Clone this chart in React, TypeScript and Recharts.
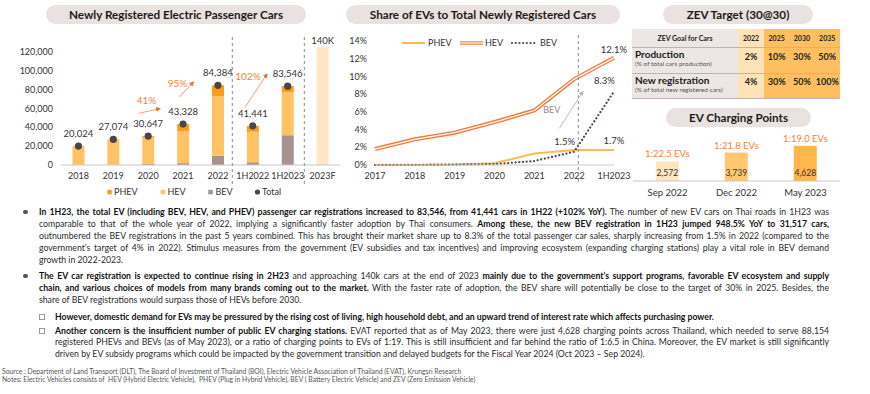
import React from 'react';
import { ComposedChart, LineChart, BarChart, Bar, Line, XAxis, YAxis, LabelList, Cell } from 'recharts';

const FONT = 'Lato, "Noto Sans", sans-serif';

// newly registered electric passenger cars
const periods = ['2018', '2019', '2020', '2021', '2022', '1H2022', '1H2023', '2023F'];
const bevCars = [100, 130, 1300, 1950, 9700, 3000, 31517, null];
const hevCars = [19500, 26500, 28300, 34100, 63200, 32100, 45700, null];
const phevCars = [424, 444, 1047, 7278, 11484, 6341, 6329, null];
const totalCars = [20024, 27074, 30647, 43328, 84384, 41441, 83546, null];
const forecastCars = [null, null, null, null, null, null, null, 140000];
const forecastLabels = ['', '', '', '', '', '', '', '140K'];
const carTicks = [0, 20000, 40000, 60000, 80000, 100000, 120000];

// share of EVs to total newly registered cars (%)
const shareYears = ['2017', '2018', '2019', '2020', '2021', '2022', '1H2023'];
const hevShare = [1.8, 2.9, 3.65, 4.85, 6.15, 9.7, 12.1];
const phevShare = [0, 0, 0.05, 0.2, 1.3, 1.7, 1.7];
const bevShare = [0, 0.02, 0.05, 0.1, 0.45, 1.5, 8.3];
const hevShareLabels = ['', '', '', '', '', '', '12.1%'];
const phevShareLabels = ['', '', '', '', '', '', '1.7%'];
const bevShareLabels = ['', '', '', '', '', '1.5%', '8.3%'];
const shareTicks = [0, 2, 4, 6, 8, 10, 12, 14];

// ZEV target
const zevYears = ['2022', '2025', '2030', '2035'];
const zevProduction = ['2%', '10%', '30%', '50%'];
const zevRegistration = ['4%', '30%', '50%', '100%'];

// EV charging points
const chargeDates = ['Sep 2022', 'Dec 2022', 'May 2023'];
const chargePoints = [2572, 3739, 4628];
const chargeRatios = ['1:22.5 EVs', '1:21.8 EVs', '1:19.0 EVs'];
const CHARGE_COLORS = ['#FFE4C0', '#FFC870', '#FFB64A'];

const carData = periods.map((p, i) => ({
  period: p, bev: bevCars[i], hev: hevCars[i], phev: phevCars[i],
  forecast: forecastCars[i], total: totalCars[i], forecastLabel: forecastLabels[i],
}));
const shareData = shareYears.map((y, i) => ({
  year: y, hev: hevShare[i], phev: phevShare[i], bev: bevShare[i],
  hevLabel: hevShareLabels[i], phevLabel: phevShareLabels[i], bevLabel: bevShareLabels[i],
}));
const chargeData = chargeDates.map((d, i) => ({ date: d, points: chargePoints[i], ratio: chargeRatios[i] }));

const BAR_TOP = 47;
const tickStyle = { fontSize: 9, fill: '#333', fontFamily: FONT };

type Seg = [string, boolean];
const para1: Seg[][] = [
  [['In 1H23, the total EV (including BEV, HEV, and PHEV) passenger car registrations increased to 83,546, from 41,441 cars in 1H22 (+102% YoY).', true], [' The number of new EV cars on Thai roads in 1H23 was', false]],
  [['comparable to that of the whole year of 2022, implying a significantly faster adoption by Thai consumers. ', false], ['Among these, the new BEV registration in 1H23 jumped 948.5% YoY to 31,517 cars,', true]],
  [['outnumbered the BEV registrations in the past 5 years combined. This has brought their market share up to 8.3% of the total passenger car sales, sharply increasing from 1.5% in 2022 (compared to the', false]],
  [['government\u2019s target of 4% in 2022). Stimulus measures from the government (EV subsidies and tax incentives) and improving ecosystem (expanding charging stations) play a vital role in BEV demand', false]],
  [['growth in 2022-2023.', false]],
];
const para2: Seg[][] = [
  [['The EV car registration is expected to continue rising in 2H23', true], [' and approaching 140k cars at the end of 2023 ', false], ['mainly due to the government\u2019s support programs, favorable EV ecosystem and supply', true]],
  [['chain, and various choices of models from many brands coming out to the market.', true], [' With the faster rate of adoption, the BEV share will potentially be close to the target of 30% in 2025. Besides, the', false]],
  [['share of BEV registrations would surpass those of HEVs before 2030.', false]],
];
const sub1: Seg[][] = [
  [['However, domestic demand for EVs may be pressured by the rising cost of living, high household debt, and an upward trend of interest rate which affects purchasing power.', true]],
];
const sub2: Seg[][] = [
  [['Another concern is the insufficient number of public EV charging stations.', true], [' EVAT reported that as of May 2023, there were just 4,628 charging points across Thailand, which needed to serve 88,154', false]],
  [['registered PHEVs and BEVs (as of May 2023), or a ratio of charging points to EVs of 1:19. This is still insufficient and far behind the ratio of 1:6.5 in China. Moreover, the EV market is still significantly', false]],
  [['driven by EV subsidy programs which could be impacted by the government transition and delayed budgets for the Fiscal Year 2024 (Oct 2023 \u2013 Sep 2024).', false]],
];

function Pill({ left, top, width, text }: { left: number; top: number; width: number; text: string }) {
  return (
    <div style={{ position: 'absolute', left, top, width, height: 19, borderRadius: 10, background: '#EAE2E0', textAlign: 'center', lineHeight: '19px', fontSize: 11.7, fontWeight: 700, color: '#1a1a1a' }}>
      {text}
    </div>
  );
}

function Para({ lines, left, top, width, lh, bullet }: { lines: Seg[][]; left: number; top: number; width: number; lh: number; bullet: 'dot' | 'box' }) {
  return (
    <div style={{ position: 'absolute', left, top, width }}>
      {bullet === 'dot'
        ? <div style={{ position: 'absolute', left: -16, top: lh / 2 - 2.4, width: 4.8, height: 4.8, borderRadius: 3, background: '#555' }} />
        : <div style={{ position: 'absolute', left: -16, top: lh / 2 - 2.5, width: 4, height: 4, border: '0.8px solid #999' }} />}
      {lines.map((segs, i) => {
        const last = i === lines.length - 1;
        return (
          <div key={i} style={{ width, height: lh, lineHeight: `${lh}px`, whiteSpace: 'nowrap', textAlign: last ? 'left' : 'justify', textAlignLast: last ? 'left' : 'justify' }}>
            {segs.map(([t, b], j) => <span key={j} style={{ fontWeight: b ? 700 : 400, color: b ? '#111' : '#2a2a2a' }}>{t}</span>)}
          </div>
        );
      })}
    </div>
  );
}

const ForecastLabel = (props: any) => {
  const { x, y, width, value } = props;
  if (!value) return null;
  return <text x={Number(x) + Number(width) / 2} y={Math.max(Number(y), BAR_TOP) - 3.5} textAnchor="middle" fontSize={9.5} fill="#333" fontFamily={FONT}>{value}</text>;
};

const BevShareLabel = (props: any) => {
  const { x, y, value } = props;
  if (!value) return null;
  return <text x={Number(x) + 1} y={Number(y) - 7} textAnchor="end" fontSize={9.5} fill="#333" fontFamily={FONT}>{value}</text>;
};

const RatioLabel = (props: any) => {
  const { x, y, width, value } = props;
  return <text x={Number(x) + Number(width) / 2} y={Number(y) - 4} textAnchor="middle" fontSize={9.5} fill="#F5823A" fontFamily={FONT}>{value}</text>;
};

const PointsLabel = (props: any) => {
  const { x, y, width, height, value } = props;
  return <text x={Number(x) + Number(width) / 2} y={Number(y) + Number(height) - 5} textAnchor="middle" fontSize={8.5} fill="#333" fontFamily={FONT}>{Number(value).toLocaleString('en-US')}</text>;
};

export default function App() {
  const cellBase: React.CSSProperties = { position: 'absolute', textAlign: 'center', fontWeight: 700, color: '#222' };
  const colLeft = (i: number) => 106 + (i === 0 ? 0 : 26 + (i - 1) * 25.3);
  const colWidth = (i: number) => (i === 0 ? 26 : 25.3);
  return (
    <div style={{ position: 'absolute', left: 0, top: 0, width: 870, height: 394, background: '#fff', fontFamily: FONT, overflow: 'hidden' }}>
      <Pill left={46} top={5} width={260} text="Newly Registered Electric Passenger Cars" />
      <Pill left={346} top={5} width={274} text="Share of EVs to Total Newly Registered Cars" />
      <Pill left={663} top={5} width={150} text="ZEV Target (30@30)" />
      <Pill left={666} top={108} width={145} text="EV Charging Points" />

      <div style={{ position: 'absolute', left: 0, top: 0 }}>
        <ComposedChart width={340} height={200} data={carData} margin={{ top: BAR_TOP, right: 0, bottom: 5, left: 0 }} barCategoryGap="33%">
          <XAxis dataKey="period" interval={0} tickLine={false} axisLine={{ stroke: '#C8C8C8' }} tick={tickStyle} height={30} />
          <YAxis width={61} domain={[0, 125000]} allowDataOverflow ticks={carTicks} tickLine={false} axisLine={false} tick={tickStyle} tickFormatter={(v: number) => v.toLocaleString('en-US')} />
          <Bar dataKey="bev" stackId="a" fill="#A8928F" isAnimationActive={false} />
          <Bar dataKey="hev" stackId="a" fill="#FFC366" isAnimationActive={false} />
          <Bar dataKey="phev" stackId="a" fill="#FF9B1C" isAnimationActive={false} />
          <Bar dataKey="forecast" stackId="a" fill="#FFE6C6" isAnimationActive={false}>
            <LabelList dataKey="forecastLabel" content={ForecastLabel} />
          </Bar>
          <Line dataKey="total" stroke="none" dot={{ r: 3.6, fill: '#4D4545', stroke: 'none' }} activeDot={false} isAnimationActive={false}>
            <LabelList dataKey="total" position="top" offset={9} fill="#333" fontSize={9.5} fontFamily={FONT} formatter={(v: any) => (v == null ? '' : Number(v).toLocaleString('en-US'))} />
          </Line>
        </ComposedChart>
      </div>

      <div style={{ position: 'absolute', left: 330, top: 0 }}>
        <LineChart width={306} height={200} data={shareData} margin={{ top: 41, right: 22, bottom: 5, left: 0 }}>
          <XAxis dataKey="year" interval={0} tickLine={false} axisLine={{ stroke: '#C8C8C8' }} tick={tickStyle} height={30} />
          <YAxis width={45} domain={[0, 14]} ticks={shareTicks} tickLine={false} axisLine={false} tick={tickStyle} tickFormatter={(v: number) => `${v}%`} />
          <Line dataKey="hev" stroke="#F47A3A" strokeWidth={4} dot={false} activeDot={false} isAnimationActive={false}>
            <LabelList dataKey="hevLabel" position="top" offset={5} fill="#333" fontSize={9.5} fontFamily={FONT} />
          </Line>
          <Line dataKey="hev" stroke="#FFFFFF" strokeWidth={1.3} dot={false} activeDot={false} isAnimationActive={false} />
          <Line dataKey="phev" stroke="#FFBA55" strokeWidth={2} dot={false} activeDot={false} isAnimationActive={false}>
            <LabelList dataKey="phevLabel" position="top" offset={6} fill="#333" fontSize={9.5} fontFamily={FONT} />
          </Line>
          <Line dataKey="bev" stroke="#5B4A4A" strokeWidth={2.2} strokeDasharray="0.1 3.6" strokeLinecap="round" dot={false} activeDot={false} isAnimationActive={false}>
            <LabelList dataKey="bevLabel" content={BevShareLabel} />
          </Line>
        </LineChart>
      </div>

      {/* ZEV target table */}
      <div style={{ position: 'absolute', left: 632, top: 29, width: 208, height: 69 }}>
        <div style={{ position: 'absolute', left: 0, top: 0, width: 106, height: 69, background: '#ECE7E5' }} />
        <div style={{ position: 'absolute', left: 106, top: 0, width: 26, height: 69, background: '#FFE3B8' }} />
        <div style={{ position: 'absolute', left: 132, top: 0, width: 76, height: 69, background: '#FFBF60' }} />
        <div style={{ position: 'absolute', left: 0, top: 17.5, width: 208, height: 1, background: '#BDB5B3' }} />
        <div style={{ position: 'absolute', left: 0, top: 43.5, width: 208, height: 1, background: '#BDB5B3' }} />
        <div style={{ position: 'absolute', left: 0, top: 68.5, width: 208, height: 1, background: '#BDB5B3' }} />
        <div style={{ ...cellBase, left: 0, top: 4, width: 106, fontSize: 7, lineHeight: '10px' }}>ZEV Goal for Cars</div>
        {zevYears.map((y, i) => (
          <div key={y} style={{ ...cellBase, left: colLeft(i), top: 4, width: colWidth(i), fontSize: 7, lineHeight: '10px' }}>{y}</div>
        ))}
        <div style={{ position: 'absolute', left: 3, top: 19, fontSize: 10, fontWeight: 700, color: '#1a1a1a', lineHeight: '12px' }}>Production</div>
        <div style={{ position: 'absolute', left: 3, top: 31, fontSize: 6.5, color: '#555', lineHeight: '8px' }}>(% of total cars production)</div>
        <div style={{ position: 'absolute', left: 3, top: 45, fontSize: 10, fontWeight: 700, color: '#1a1a1a', lineHeight: '12px' }}>New registration</div>
        <div style={{ position: 'absolute', left: 3, top: 57, fontSize: 6.5, color: '#555', lineHeight: '8px' }}>(% of total new registered cars)</div>
        {zevProduction.map((v, i) => (
          <div key={'p' + i} style={{ ...cellBase, left: colLeft(i), top: 22, width: colWidth(i), fontSize: 9, lineHeight: '12px' }}>{v}</div>
        ))}
        {zevRegistration.map((v, i) => (
          <div key={'r' + i} style={{ ...cellBase, left: colLeft(i), top: 47, width: colWidth(i), fontSize: 9, lineHeight: '12px' }}>{v}</div>
        ))}
      </div>

      <div style={{ position: 'absolute', left: 633, top: 120 }}>
        <BarChart width={207} height={81} data={chargeData} margin={{ top: 23, right: 0, bottom: 0, left: 0 }} barCategoryGap="33%">
          <XAxis dataKey="date" interval={0} tickLine={false} axisLine={{ stroke: '#C8C8C8' }} tick={{ ...tickStyle, fontSize: 9.5 }} height={20} />
          <YAxis hide domain={[0, 5000]} />
          <Bar dataKey="points" isAnimationActive={false}>
            {chargeData.map((_, i) => <Cell key={i} fill={CHARGE_COLORS[i]} />)}
            <LabelList dataKey="ratio" content={RatioLabel} />
            <LabelList dataKey="points" content={PointsLabel} />
          </Bar>
        </BarChart>
      </div>

      {/* annotations and legends */}
      <svg width={870} height={200} style={{ position: 'absolute', left: 0, top: 0, pointerEvents: 'none' }} fontFamily={FONT}>
        <defs>
          <marker id="ah" viewBox="0 0 10 10" refX="8" refY="5" markerWidth="5" markerHeight="5" orient="auto">
            <path d="M0,0 L10,5 L0,10 z" fill="#F26B21" />
          </marker>
          <marker id="ahg" viewBox="0 0 10 10" refX="8" refY="5" markerWidth="5" markerHeight="5" orient="auto">
            <path d="M0,0 L10,5 L0,10 z" fill="#B5B5B5" />
          </marker>
        </defs>
        <line x1={232.3} y1={37} x2={232.3} y2={185} stroke="#8A8A8A" strokeDasharray="3 3" />
        <line x1={304.3} y1={37} x2={304.3} y2={185} stroke="#8A8A8A" strokeDasharray="3 3" />
        <line x1={578.3} y1={35} x2={578.3} y2={182} stroke="#8A8A8A" strokeDasharray="3 3" />

        <line x1={139} y1={113.3} x2={160} y2={108.5} stroke="#F8A070" strokeWidth={1} markerEnd="url(#ah)" />
        <text x={146.5} y={104} textAnchor="middle" fontSize={10} fill="#F77F32">41%</text>
        <line x1={179} y1={97.3} x2={193.5} y2={82} stroke="#F8A070" strokeWidth={1} markerEnd="url(#ah)" />
        <text x={177.5} y={87} textAnchor="middle" fontSize={10} fill="#F77F32">95%</text>
        <line x1={245} y1={107.3} x2={267} y2={74} stroke="#F8A070" strokeWidth={1} markerEnd="url(#ah)" />
        <text x={248} y={79.5} textAnchor="middle" fontSize={10} fill="#F77F32">102%</text>

        <line x1={559.3} y1={128.3} x2={583} y2={91.5} stroke="#BDBDBD" strokeWidth={1} markerEnd="url(#ahg)" />
        <text x={551.7} y={113} textAnchor="middle" fontSize={9} fill="#A08686">BEV</text>

        {/* line chart legend */}
        <line x1={402} y1={43} x2={425} y2={43} stroke="#FFBA55" strokeWidth={2} />
        <text x={428} y={46} fontSize={9} fill="#333">PHEV</text>
        <line x1={460} y1={43} x2={483} y2={43} stroke="#F9A070" strokeWidth={4} />
        <line x1={460} y1={43} x2={483} y2={43} stroke="#FFD9C2" strokeWidth={1.3} />
        <text x={485} y={46} fontSize={9} fill="#333">HEV</text>
        <line x1={512} y1={43} x2={536} y2={43} stroke="#5B4A4A" strokeWidth={2.2} strokeDasharray="0.1 3.6" strokeLinecap="round" />
        <text x={540} y={46} fontSize={9} fill="#333">BEV</text>

        {/* bar chart legend */}
        <rect x={107.3} y={189.8} width={4.5} height={4.5} fill="#FF9B1C" />
        <text x={114} y={195} fontSize={9} fill="#333">PHEV</text>
        <rect x={160.7} y={189.8} width={4.5} height={4.5} fill="#FFC366" />
        <text x={167.5} y={195} fontSize={9} fill="#333">HEV</text>
        <rect x={208.3} y={189.8} width={4.5} height={4.5} fill="#A8928F" />
        <text x={215.5} y={195} fontSize={9} fill="#333">BEV</text>
        <circle cx={257.5} cy={192} r={2.6} fill="#4D4545" />
        <text x={262} y={195} fontSize={9} fill="#333">Total</text>
      </svg>

      <div style={{ fontSize: 8.7, color: '#2a2a2a' }}>
        <Para lines={para1} left={39} top={206} width={790} lh={11.9} bullet="dot" />
        <Para lines={para2} left={39} top={270} width={790} lh={11.8} bullet="dot" />
        <Para lines={sub1} left={55} top={311} width={774} lh={11.5} bullet="box" />
        <Para lines={sub2} left={55} top={324.5} width={774} lh={11.5} bullet="box" />
      </div>
      <div style={{ position: 'absolute', left: 2, top: 366.5, fontSize: 6.8, color: '#555', lineHeight: '8.8px', whiteSpace: 'nowrap' }}>
        <div>Source : Department of Land Transport (DLT), The Board of Investment of Thailand (BOI), Electric Vehicle Association of Thailand (EVAT), Krungsri Research</div>
        <div>Notes: Electric Vehicles consists of&nbsp; HEV (Hybrid Electric Vehicle),&nbsp; PHEV (Plug in Hybrid Vehicle), BEV ( Battery Electric Vehicle) and ZEV (Zero Emission Vehicle)</div>
      </div>
    </div>
  );
}
